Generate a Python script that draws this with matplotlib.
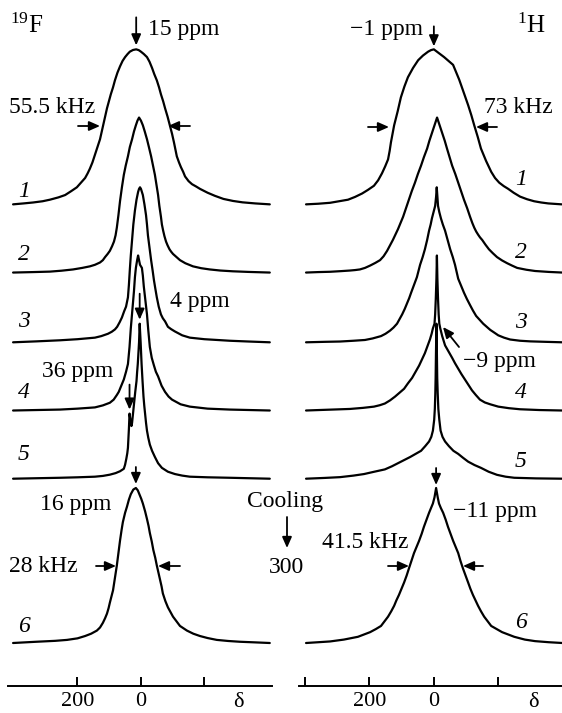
import matplotlib
matplotlib.use("Agg")
import numpy as np
import matplotlib.pyplot as plt

plt.rcParams['font.family'] = ['Liberation Serif', 'DejaVu Serif']
plt.rcParams['mathtext.fontset'] = 'custom'
plt.rcParams['mathtext.rm'] = 'Liberation Serif'
plt.rcParams['mathtext.it'] = 'Liberation Serif:italic'

# 19F spectra: (chemical shift in ppm, intensity normalised to the peak)
f1 = [(403, 0), (370, 0.006), (340, 0.012), (310, 0.02), (287, 0.03), (260, 0.045), (239, 0.06),
      (220, 0.085), (202, 0.11), (189, 0.14), (176, 0.17), (168, 0.2), (161, 0.23), (153, 0.27),
      (145, 0.32), (137, 0.37), (129, 0.42), (118, 0.52), (107, 0.62), (101, 0.665), (95, 0.71),
      (88, 0.755), (82, 0.8), (74, 0.85), (66, 0.89), (58, 0.925), (50, 0.95), (42, 0.97),
      (35, 0.985), (25, 0.996), (15, 1.0), (7, 0.995), (0, 0.985), (-9, 0.97), (-19, 0.95),
      (-27, 0.92), (-35, 0.88), (-42, 0.84), (-50, 0.8), (-57, 0.755), (-63, 0.71), (-70, 0.665),
      (-76, 0.62), (-84, 0.565), (-91, 0.51), (-98, 0.455), (-104, 0.4), (-109, 0.35), (-113, 0.31),
      (-120, 0.27), (-126, 0.24), (-133, 0.21), (-139, 0.18), (-150, 0.15), (-161, 0.13),
      (-174, 0.115), (-186, 0.1), (-210, 0.075), (-233, 0.055), (-260, 0.035), (-290, 0.022),
      (-320, 0.013), (-360, 0.006), (-406, 0)]

f2 = [(403, 0), (340, 0.003), (287, 0.006), (250, 0.012), (214, 0.02), (185, 0.03), (161, 0.04),
      (145, 0.05), (129, 0.065), (120, 0.08), (113, 0.1), (105, 0.12), (98, 0.14), (91, 0.17),
      (85, 0.2), (80, 0.24), (76, 0.29), (71, 0.37), (66, 0.46), (60, 0.55), (54, 0.63), (48, 0.69),
      (41, 0.75), (35, 0.81), (28, 0.86), (22, 0.91), (16, 0.95), (11, 0.98), (6, 1.0), (0, 0.98),
      (-6, 0.95), (-12, 0.91), (-19, 0.86), (-25, 0.81), (-32, 0.75), (-38, 0.69), (-44, 0.63),
      (-49, 0.565), (-54, 0.5), (-58, 0.43), (-63, 0.36), (-66, 0.31), (-70, 0.27), (-74, 0.235),
      (-79, 0.2), (-84, 0.175), (-90, 0.15), (-95, 0.135), (-101, 0.12), (-112, 0.1), (-123, 0.08),
      (-140, 0.06), (-164, 0.04), (-190, 0.028), (-217, 0.02), (-250, 0.013), (-290, 0.008),
      (-340, 0.004), (-406, 0)]

f3 = [(403, 0), (330, 0.006), (255, 0.013), (200, 0.02), (145, 0.03), (125, 0.04), (104, 0.055),
      (92, 0.068), (82, 0.083), (75, 0.1), (67, 0.13), (60, 0.16), (53, 0.2), (47, 0.23), (44, 0.26),
      (41, 0.29), (38, 0.37), (35, 0.47), (32, 0.56), (28, 0.66), (24, 0.76), (19, 0.85), (14, 0.92),
      (9, 0.97), (6, 0.99), (3, 1.0), (0, 0.99), (-3, 0.97), (-6, 0.95), (-11, 0.89), (-16, 0.82),
      (-19, 0.76), (-22, 0.69), (-27, 0.61), (-32, 0.53), (-37, 0.46), (-41, 0.40), (-45, 0.35),
      (-50, 0.29), (-56, 0.23), (-63, 0.18), (-69, 0.155), (-76, 0.135), (-85, 0.10), (-95, 0.085),
      (-107, 0.07), (-130, 0.045), (-154, 0.03), (-200, 0.02), (-280, 0.01), (-340, 0.005), (-406, 0)]

f4 = [(403, 0), (330, 0.003), (255, 0.006), (200, 0.012), (145, 0.02), (120, 0.033), (98, 0.05),
      (86, 0.07), (76, 0.1), (70, 0.12), (66, 0.14), (60, 0.17), (54, 0.2), (47, 0.25), (41, 0.30),
      (36, 0.41), (32, 0.53), (27, 0.65), (22, 0.77), (19, 0.86), (16, 0.92), (12, 0.97), (9, 1.0),
      (6, 0.97), (3, 0.94), (0, 0.93), (-3, 0.92), (-6, 0.87), (-9, 0.8), (-14, 0.71), (-19, 0.62),
      (-23, 0.52), (-28, 0.41), (-34, 0.34), (-41, 0.29), (-47, 0.25), (-54, 0.22), (-65, 0.16),
      (-76, 0.12), (-87, 0.09), (-98, 0.07), (-125, 0.04), (-154, 0.025), (-210, 0.012),
      (-280, 0.006), (-406, 0)]

f5 = [(403, 0), (330, 0.003), (255, 0.006), (200, 0.009), (145, 0.013), (120, 0.018), (98, 0.026),
      (80, 0.036), (66, 0.048), (54, 0.064), (50, 0.09), (46, 0.13), (43, 0.165), (41, 0.2),
      (39.5, 0.26), (38, 0.32), (37, 0.37), (36, 0.42), (34, 0.39), (32, 0.36), (30, 0.34),
      (28, 0.36), (25, 0.42), (22, 0.48), (18, 0.56), (14, 0.63), (12, 0.69), (10, 0.74), (8, 0.81),
      (6, 0.88), (4, 1.0), (2.5, 0.94), (1, 0.88), (-0.5, 0.81), (-2, 0.74), (-5, 0.63), (-8, 0.53),
      (-10.5, 0.47), (-13, 0.42), (-16, 0.36), (-19, 0.31), (-23, 0.265), (-28, 0.22), (-35, 0.18),
      (-44, 0.14), (-54, 0.1), (-66, 0.07), (-85, 0.045), (-107, 0.03), (-130, 0.02), (-154, 0.013),
      (-210, 0.009), (-280, 0.006), (-406, 0)]

f6 = [(403, 0), (330, 0.008), (270, 0.014), (233, 0.02), (200, 0.03), (176, 0.045), (157, 0.06),
      (139, 0.08), (129, 0.1), (120, 0.13), (113, 0.16), (107, 0.19), (102, 0.225), (98, 0.26),
      (93, 0.3), (88, 0.34), (82, 0.42), (76, 0.5), (71, 0.58), (66, 0.66), (61, 0.73), (57, 0.78),
      (50, 0.84), (44, 0.88), (38, 0.925), (32, 0.96), (24, 0.99), (16, 1.0), (10, 0.985), (5, 0.96),
      (-1, 0.93), (-6, 0.9), (-13, 0.85), (-19, 0.8), (-24, 0.755), (-28, 0.71), (-34, 0.655),
      (-39, 0.6), (-45, 0.55), (-50, 0.5), (-55, 0.455), (-60, 0.41), (-65, 0.365), (-69, 0.32),
      (-77, 0.27), (-85, 0.23), (-93, 0.2), (-101, 0.17), (-112, 0.14), (-123, 0.11), (-134, 0.095),
      (-145, 0.08), (-165, 0.06), (-186, 0.045), (-210, 0.032), (-239, 0.02), (-275, 0.013),
      (-312, 0.008), (-360, 0.004), (-406, 0)]

# 1H spectra
h1 = [(398, 0), (360, 0.004), (323, 0.01), (295, 0.02), (267, 0.03), (245, 0.048), (223, 0.07),
      (205, 0.093), (186, 0.12), (173, 0.155), (161, 0.2), (151, 0.245), (142, 0.29), (137, 0.345),
      (133, 0.4), (128, 0.455), (123, 0.51), (112, 0.6), (102, 0.69), (91, 0.76), (80, 0.82),
      (64, 0.88), (48, 0.93), (33, 0.96), (17, 0.985), (8, 0.995), (-1, 1.0), (-17, 0.975),
      (-33, 0.95), (-47, 0.925), (-61, 0.9), (-67, 0.87), (-73, 0.84), (-80, 0.805), (-86, 0.77),
      (-97, 0.705), (-108, 0.64), (-118, 0.575), (-127, 0.51), (-138, 0.435), (-148, 0.36),
      (-156, 0.32), (-164, 0.28), (-172, 0.245), (-180, 0.21), (-192, 0.17), (-205, 0.14),
      (-219, 0.118), (-233, 0.1), (-250, 0.075), (-270, 0.05), (-292, 0.033), (-314, 0.02),
      (-336, 0.012), (-358, 0.006), (-400, 0)]

h2 = [(398, 0), (360, 0.003), (323, 0.005), (290, 0.009), (261, 0.013), (245, 0.016), (230, 0.02),
      (214, 0.03), (198, 0.045), (182, 0.062), (167, 0.08), (156, 0.105), (145, 0.14), (136, 0.175),
      (127, 0.21), (119, 0.245), (111, 0.28), (103, 0.32), (95, 0.36), (86, 0.415), (77, 0.47),
      (68, 0.525), (58, 0.58), (49, 0.635), (39, 0.69), (30, 0.745), (20, 0.8), (13, 0.85), (5, 0.9),
      (-3, 0.95), (-11, 1.0), (-19, 0.95), (-27, 0.9), (-35, 0.85), (-42, 0.8), (-50, 0.745),
      (-58, 0.69), (-68, 0.635), (-77, 0.58), (-86, 0.525), (-95, 0.47), (-105, 0.415), (-114, 0.36),
      (-121, 0.32), (-127, 0.29), (-133, 0.265), (-139, 0.245), (-145, 0.227), (-152, 0.21),
      (-162, 0.18), (-173, 0.15), (-185, 0.125), (-198, 0.1), (-214, 0.078), (-230, 0.06),
      (-245, 0.045), (-261, 0.03), (-290, 0.018), (-317, 0.01), (-360, 0.004), (-402, 0)]

h3 = [(398, 0), (340, 0.003), (292, 0.005), (250, 0.01), (214, 0.015), (190, 0.025), (164, 0.04),
      (150, 0.055), (136, 0.075), (125, 0.095), (114, 0.12), (106, 0.15), (98, 0.18), (90, 0.215),
      (83, 0.25), (76, 0.285), (70, 0.32), (61, 0.37), (52, 0.42), (47, 0.46), (42, 0.5), (34, 0.55),
      (27, 0.6), (20, 0.66), (14, 0.72), (9, 0.76), (5, 0.8), (0, 0.84), (-5, 0.88), (-8, 0.94),
      (-10, 1.0), (-12, 0.94), (-14, 0.88), (-18, 0.84), (-23, 0.8), (-29, 0.76), (-36, 0.72),
      (-44, 0.66), (-52, 0.6), (-60, 0.55), (-67, 0.5), (-72, 0.455), (-77, 0.41), (-86, 0.365),
      (-95, 0.32), (-104, 0.28), (-114, 0.24), (-123, 0.205), (-133, 0.17), (-144, 0.145),
      (-155, 0.12), (-166, 0.1), (-177, 0.08), (-190, 0.062), (-202, 0.045), (-220, 0.03),
      (-239, 0.018), (-270, 0.01), (-302, 0.006), (-350, 0.003), (-402, 0)]

h4 = [(398, 0), (330, 0.005), (261, 0.01), (220, 0.017), (186, 0.025), (168, 0.034), (152, 0.045),
      (136, 0.065), (120, 0.09), (106, 0.115), (92, 0.14), (80, 0.175), (67, 0.21), (56, 0.25),
      (45, 0.29), (36, 0.33), (27, 0.37), (19, 0.415), (11, 0.46), (6, 0.495), (2, 0.53), (-3, 0.56),
      (-5, 0.62), (-7, 0.72), (-9, 0.85), (-10.5, 1.0), (-12, 0.85), (-14, 0.72), (-16, 0.62),
      (-18, 0.56), (-21, 0.53), (-27, 0.48), (-36, 0.42), (-47, 0.38), (-58, 0.34), (-67, 0.305),
      (-77, 0.27), (-87, 0.235), (-98, 0.2), (-109, 0.165), (-120, 0.13), (-132, 0.1), (-145, 0.07),
      (-160, 0.052), (-177, 0.04), (-202, 0.025), (-235, 0.015), (-270, 0.008), (-330, 0.003),
      (-402, 0)]

h5 = [(398, 0), (340, 0.005), (292, 0.01), (250, 0.02), (217, 0.03), (185, 0.045), (152, 0.06),
      (130, 0.08), (111, 0.1), (92, 0.12), (73, 0.14), (56, 0.16), (39, 0.18), (26, 0.21),
      (14, 0.24), (7, 0.27), (2, 0.31), (-2, 0.38), (-4, 0.45), (-5.5, 0.55), (-6.5, 0.65),
      (-7.5, 0.8), (-9, 1.0), (-10.5, 0.8), (-11.5, 0.65), (-13, 0.55), (-15, 0.45), (-18, 0.38),
      (-22, 0.31), (-28, 0.27), (-36, 0.24), (-48, 0.21), (-62, 0.18), (-77, 0.16), (-92, 0.135),
      (-108, 0.11), (-128, 0.088), (-148, 0.07), (-172, 0.045), (-198, 0.025), (-225, 0.013),
      (-252, 0.006), (-320, 0.002), (-402, 0)]

h6 = [(398, 0), (360, 0.005), (323, 0.01), (280, 0.022), (236, 0.04), (217, 0.055), (198, 0.07),
      (180, 0.09), (164, 0.11), (153, 0.14), (142, 0.17), (132, 0.205), (123, 0.24), (116, 0.275),
      (108, 0.31), (100, 0.35), (92, 0.39), (84, 0.435), (77, 0.48), (69, 0.53), (61, 0.58),
      (53, 0.62), (45, 0.66), (37, 0.705), (30, 0.75), (22, 0.795), (14, 0.84), (8, 0.87), (2, 0.9),
      (-3, 0.94), (-8, 1.0), (-13, 0.94), (-17, 0.9), (-23, 0.87), (-30, 0.84), (-38, 0.795),
      (-45, 0.75), (-53, 0.705), (-61, 0.66), (-69, 0.62), (-77, 0.58), (-84, 0.53), (-92, 0.48),
      (-100, 0.435), (-108, 0.39), (-115, 0.35), (-123, 0.31), (-131, 0.275), (-139, 0.24),
      (-148, 0.205), (-158, 0.17), (-169, 0.14), (-180, 0.11), (-197, 0.09), (-214, 0.07),
      (-233, 0.055), (-252, 0.04), (-285, 0.022), (-317, 0.012), (-360, 0.005), (-402, 0)]

spectra_f = [f1, f2, f3, f4, f5, f6]
spectra_h = [h1, h2, h3, h4, h5, h6]
curve_labels = ['1', '2', '3', '4', '5', '6']

# layout (pixels, figure is 562 x 713 at dpi 100)
W, H = 562, 713
UNIT = 155.0                      # pixels per unit of normalised intensity
offsets = [2.83, 2.39, 1.94, 1.50, 1.06, 0.0]
AX_BOTTOM, AX_HEIGHT = 27, 686

fig = plt.figure(figsize=(W / 100, H / 100), dpi=100)


def panel(x0, x1, xlim, ticks, ticklabels):
    ax = fig.add_axes([x0 / W, AX_BOTTOM / H, (x1 - x0) / W, AX_HEIGHT / H])
    ax.set_xlim(*xlim)
    ax.set_ylim(-43 / UNIT, (AX_HEIGHT - 43) / UNIT)
    for s in ['left', 'right', 'top']:
        ax.spines[s].set_visible(False)
    ax.spines['bottom'].set_linewidth(1.4)
    ax.set_yticks([])
    ax.set_xticks(ticks)
    ax.set_xticklabels(ticklabels)
    ax.tick_params(axis='x', direction='in', length=6.5, width=1.4,
                   labelsize=16, pad=4)
    ax.patch.set_alpha(0)
    return ax


axf = panel(8, 272, (419, -413), [200, 0, -200], ['200', '0', ''])
axh = panel(299, 562, (420, -401), [400, 200, 0, -200], ['', '200', '0', ''])

for ax, spectra in [(axf, spectra_f), (axh, spectra_h)]:
    for spec, off in zip(spectra, offsets):
        ppm, inten = zip(*spec)
        ax.plot(ppm, off + np.array(inten), color='k', lw=1.6,
                solid_joinstyle='round', solid_capstyle='round')

AP = dict(arrowstyle='-|>,head_length=0.5,head_width=0.22', color='k',
          lw=1.3, shrinkA=0, shrinkB=0, mutation_scale=13)


def peak_arrow(ax, spec, off, length, gap=4):
    ppm, inten = zip(*spec)
    i = int(np.argmax(inten))
    ax.annotate('', xy=(ppm[i], off + inten[i] + gap / UNIT), xycoords='data',
                xytext=(0, length), textcoords='offset pixels', arrowprops=AP)


peak_arrow(axf, f1, offsets[0], 28)
peak_arrow(axf, f5, offsets[4], 26)
peak_arrow(axf, f6, offsets[5], 17)
shoulder = dict(f5)[36]
axf.annotate('', xy=(36, offsets[4] + shoulder + 4 / UNIT), xytext=(0, 25),
             textcoords='offset pixels', arrowprops=AP)
peak_arrow(axh, h1, offsets[0], 20, gap=3)
peak_arrow(axh, h6, offsets[5], 17, gap=3)

# overlay in figure pixels (y downwards) for labels and width arrows
ov = fig.add_axes([0, 0, 1, 1])
ov.set_xlim(0, W)
ov.set_ylim(H, 0)
ov.axis('off')
ov.patch.set_alpha(0)


def arrow(x0, y0, x1, y1):
    ov.annotate('', xy=(x1, y1), xytext=(x0, y0), arrowprops=AP)


def txt(x, y, s, ha='left', size=17, **kw):
    ov.text(x, y, s, ha=ha, va='baseline', fontsize=size, **kw)


# half-width arrows
arrow(78, 126, 100, 126)
arrow(190, 126, 168, 126)
arrow(368, 127, 389, 127)
arrow(497, 127, 476, 127)
arrow(96, 566, 116, 566)
arrow(180, 566, 158, 566)
arrow(388, 566, 409, 566)
arrow(483, 566, 463, 566)
arrow(459, 347, 443, 327)
arrow(287, 517, 287, 548)

txt(10, 33, r'$^{\rm 19}$F', size=18)
txt(517, 33, r'$^{\rm 1}$H', size=18)
txt(148, 35, '15 ppm')
txt(423, 35, '\u22121 ppm', ha='right')
txt(9, 113, '55.5 kHz')
txt(484, 113, '73 kHz')
txt(170, 307, '4 ppm')
txt(42, 377, '36 ppm')
txt(463, 367, '\u22129 ppm')
txt(40, 510, '16 ppm')
txt(9, 572, '28 kHz')
txt(285, 507, 'Cooling', ha='center')
txt(287, 573, '300', ha='center')
txt(453, 517, '\u221211 ppm')
txt(322, 548, '41.5 kHz')
txt(238, 707, '\u03b4', ha='center', size=16)
txt(533, 707, '\u03b4', ha='center', size=16)

left_label_y = [197, 260, 327, 398, 460, 632]
right_label_y = [185, 258, 328, 398, 467, 628]
for lab, yl, yr in zip(curve_labels, left_label_y, right_label_y):
    txt(24, yl, lab, ha='center', style='italic')
    txt(521, yr, lab, ha='center', style='italic')

fig.savefig('out.png', dpi=100)
